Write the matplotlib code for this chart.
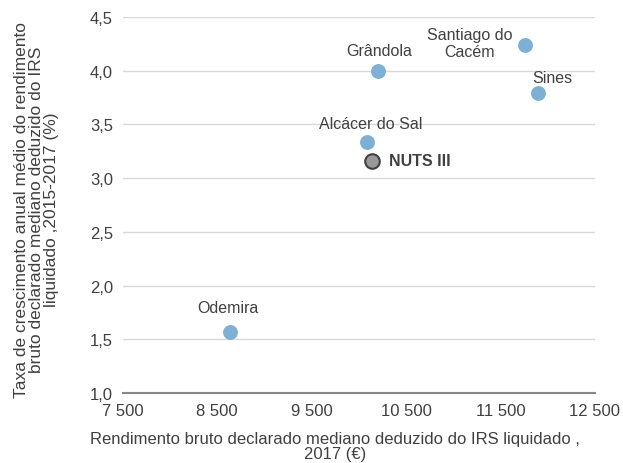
import matplotlib.pyplot as plt
from matplotlib.ticker import FuncFormatter

plt.rcParams["font.family"] = ["Liberation Sans", "DejaVu Sans"]

names = ["Odemira", "Alcácer do Sal", "Grândola", "Santiago do\nCacém", "Sines"]
rendimento = [8640, 10085, 10200, 11760, 11900]
taxa = [1.57, 3.34, 4.00, 4.24, 3.79]

nuts_name = "NUTS III"
nuts_x = 10140
nuts_y = 3.16

# label offsets in points (dx, dy)
label_pos = {
    "Odemira": (-2, 12),
    "Alcácer do Sal": (3, 8),
    "Grândola": (1, 9),
    "Santiago do\nCacém": (-40, -10),
    "Sines": (10, 6),
}

fig = plt.figure(figsize=(6.23, 4.64), dpi=100)
ax = fig.add_axes([0.197, 0.151, 0.758, 0.81])

ax.scatter(rendimento, taxa, s=115, color="#7EB0D5", zorder=3, linewidths=0)
ax.scatter([nuts_x], [nuts_y], s=110, color="#999999", edgecolors="#404040",
           linewidths=1.5, zorder=3)

for n, x, y in zip(names, rendimento, taxa):
    dx, dy = label_pos[n]
    ax.annotate(n, (x, y), xytext=(dx, dy), textcoords="offset points",
                ha="center", va="bottom", fontsize=11.5, color="#404040",
                linespacing=1.15)
ax.annotate(nuts_name, (nuts_x, nuts_y), xytext=(12, 0), textcoords="offset points",
            ha="left", va="center", fontsize=11.5, color="#404040", fontweight="bold")

ax.set_xlim(7500, 12500)
ax.set_ylim(1.0, 4.5)
ax.set_xticks([7500, 8500, 9500, 10500, 11500, 12500])
ax.set_yticks([1.0, 1.5, 2.0, 2.5, 3.0, 3.5, 4.0, 4.5])
ax.xaxis.set_major_formatter(FuncFormatter(lambda v, p: f"{int(v):,}".replace(",", " ")))
ax.yaxis.set_major_formatter(FuncFormatter(lambda v, p: f"{v:.1f}".replace(".", ",")))
ax.tick_params(length=0, labelsize=12, colors="#404040", pad=7)

ax.grid(axis="y", color="#D9D9D9", linewidth=1)
ax.set_axisbelow(True)
for s in ["top", "right", "left"]:
    ax.spines[s].set_visible(False)
ax.spines["bottom"].set_color("#868686")
ax.spines["bottom"].set_linewidth(1.5)

ax.set_xlabel("Rendimento bruto declarado mediano deduzido do IRS liquidado ,\n2017 (€)",
              fontsize=12, color="#404040", linespacing=1.05)
ax.xaxis.set_label_coords(0.45, -0.10)
ax.set_ylabel("Taxa de crescimento anual médio do rendimento\nbruto declarado mediano deduzido do IRS\nliquidado ,2015-2017 (%)",
              fontsize=12.5, color="#404040", linespacing=0.98)
ax.yaxis.set_label_coords(-0.135, 0.49)

fig.savefig("out.png", dpi=100)
